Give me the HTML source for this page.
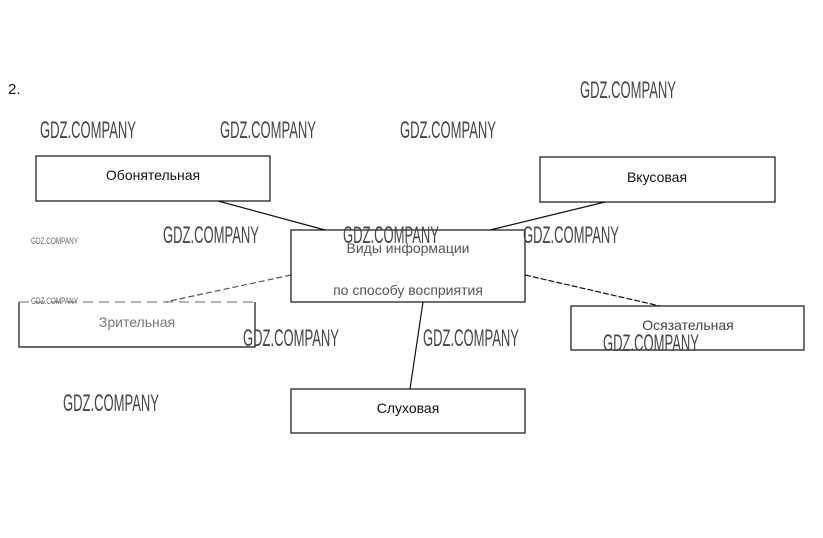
<!DOCTYPE html>
<html><head><meta charset="utf-8"><style>
html,body{margin:0;padding:0;background:#fff;}
svg{display:block;}
.w{font-family:"Liberation Sans",sans-serif;font-size:24px;fill:#444;}
.ws{font-family:"Liberation Sans",sans-serif;font-size:9px;fill:#666;}
.t{font-family:"Liberation Sans","DejaVu Sans",sans-serif;font-size:14px;fill:#111;}
</style></head><body>
<svg width="823" height="538" viewBox="0 0 823 538" xmlns="http://www.w3.org/2000/svg">
<rect width="823" height="538" fill="#fff"/>
<g stroke="#111" stroke-width="1.2" fill="none">
<line x1="218" y1="201" x2="325" y2="230"/>
<line x1="605" y1="202" x2="490" y2="230"/>
<line x1="291" y1="275" x2="165" y2="302" stroke="#555" stroke-dasharray="6,3"/>
<line x1="525" y1="275" x2="660" y2="306" stroke-dasharray="6,2"/>
<line x1="423" y1="302" x2="410" y2="389"/>
<rect x="36" y="156" width="234" height="45"/>
<rect x="540" y="157" width="235" height="45"/>
<rect x="291" y="230" width="234" height="72"/>
<path d="M19 302 V347 H255 V302"/>
<line x1="19" y1="302" x2="255" y2="302" stroke="#888" stroke-dasharray="10,6"/>
<rect x="571" y="306" width="233" height="44"/>
<rect x="291" y="389" width="234" height="44"/>
</g>
<text x="8" y="94" class="t" style="font-size:15px">2.</text>
<g class="t" text-anchor="middle">
<text x="153" y="180">Обонятельная</text>
<text x="657" y="182">Вкусовая</text>
<text x="408" y="253" fill="#555">Виды информации</text>
<text x="408" y="295" fill="#555">по способу восприятия</text>
<text x="137" y="327" fill="#777">Зрительная</text>
<text x="688" y="330" fill="#444">Осязательная</text>
<text x="408" y="413">Слуховая</text>
</g>
<g class="w">
<text x="580" y="98" textLength="96" lengthAdjust="spacingAndGlyphs">GDZ.COMPANY</text>
<text x="40" y="138" textLength="96" lengthAdjust="spacingAndGlyphs">GDZ.COMPANY</text>
<text x="220" y="138" textLength="96" lengthAdjust="spacingAndGlyphs">GDZ.COMPANY</text>
<text x="400" y="138" textLength="96" lengthAdjust="spacingAndGlyphs">GDZ.COMPANY</text>
<text x="163" y="243" textLength="96" lengthAdjust="spacingAndGlyphs">GDZ.COMPANY</text>
<text x="343" y="243" textLength="96" lengthAdjust="spacingAndGlyphs">GDZ.COMPANY</text>
<text x="523" y="243" textLength="96" lengthAdjust="spacingAndGlyphs">GDZ.COMPANY</text>
<text x="243" y="346" textLength="96" lengthAdjust="spacingAndGlyphs">GDZ.COMPANY</text>
<text x="423" y="346" textLength="96" lengthAdjust="spacingAndGlyphs">GDZ.COMPANY</text>
<text x="603" y="351" textLength="96" lengthAdjust="spacingAndGlyphs">GDZ.COMPANY</text>
<text x="63" y="411" textLength="96" lengthAdjust="spacingAndGlyphs">GDZ.COMPANY</text>
</g>
<g class="ws">
<text x="31" y="244" textLength="47" lengthAdjust="spacingAndGlyphs">GDZ.COMPANY</text>
<text x="31" y="304" textLength="47" lengthAdjust="spacingAndGlyphs">GDZ.COMPANY</text>
</g>
</svg>
</body></html>
